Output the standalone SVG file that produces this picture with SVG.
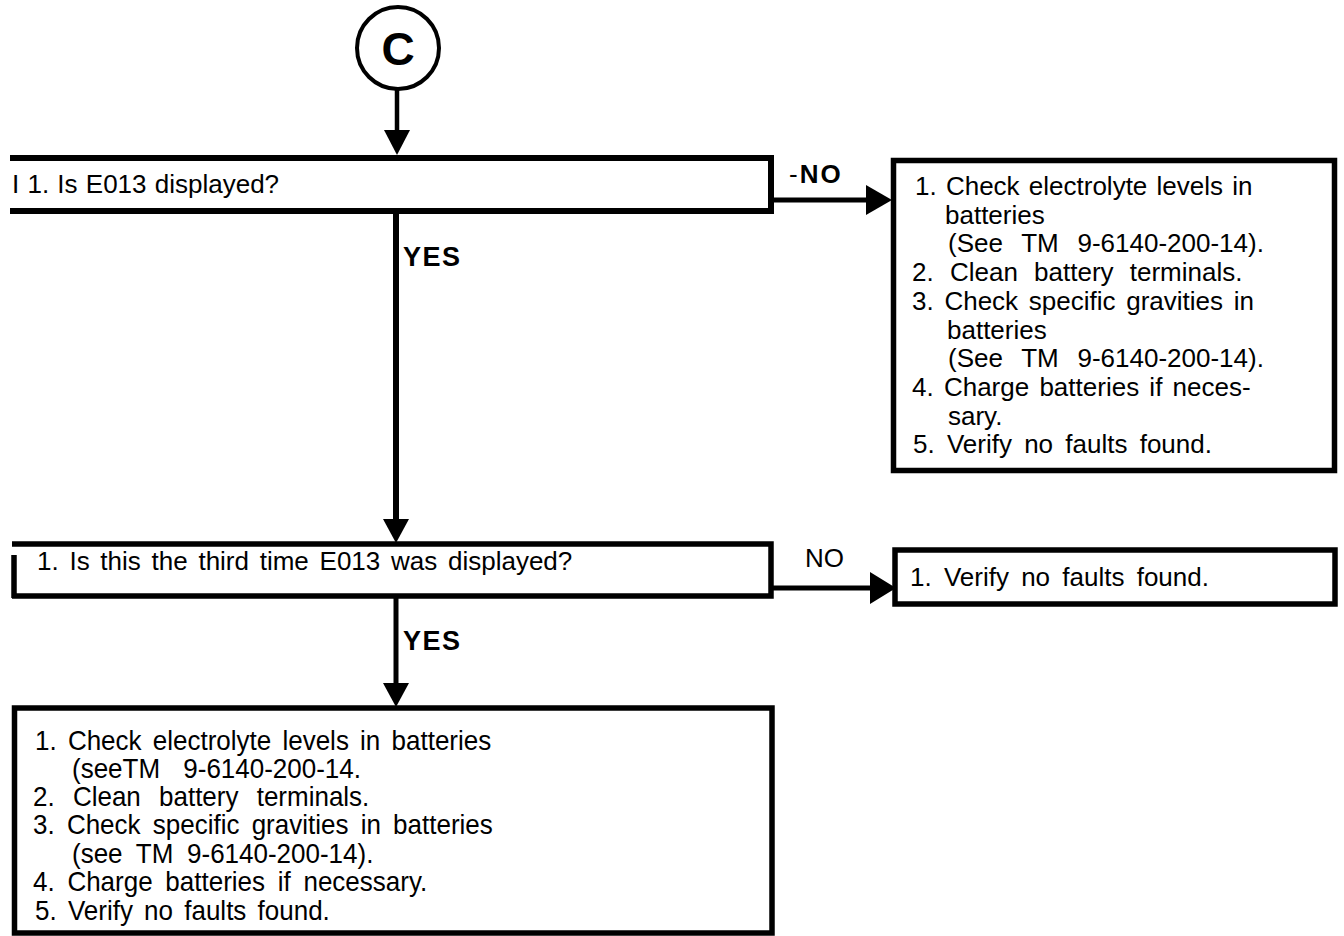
<svg xmlns="http://www.w3.org/2000/svg" width="1344" height="936" viewBox="0 0 1344 936">
<style>
text{font-family:"Liberation Sans",Arial,sans-serif;font-size:26px;fill:#000;word-spacing:4px}
.b{font-weight:bold;word-spacing:0}
.box{fill:none;stroke:#000;stroke-width:5.5}
.ln{fill:none;stroke:#000;stroke-width:5}
.ah{fill:#000}
</style>
<rect width="1344" height="936" fill="#fff"/>
<g id="start">
<circle cx="398" cy="48" r="41" fill="none" stroke="#000" stroke-width="4"/>
<text x="398" y="65" text-anchor="middle" class="b" style="font-size:46px">C</text>
</g>
<g id="q1">
<path class="box" d="M10 158H771V211H10" style="stroke-width:6"/>
<text x="12" y="193" style="word-spacing:1px">I 1. Is E013 displayed?</text>
</g>
<g id="a1">
<rect class="box" x="893.5" y="160.5" width="441" height="310"/>
<text x="915" y="195" style="word-spacing:2px">1. Check electrolyte levels in</text>
<text x="945" y="224">batteries</text>
<text x="948" y="252" style="word-spacing:11.5px">(See TM 9-6140-200-14).</text>
<text x="912" y="281" style="word-spacing:9px">2. Clean battery terminals.</text>
<text x="912" y="310" style="word-spacing:3.5px">3. Check specific gravities in</text>
<text x="947" y="339">batteries</text>
<text x="948" y="367" style="word-spacing:11.5px">(See TM 9-6140-200-14).</text>
<text x="912" y="396" style="word-spacing:3px">4. Charge batteries if neces-</text>
<text x="948" y="425">sary.</text>
<text x="913" y="453" style="word-spacing:5px">5. Verify no faults found.</text>
</g>
<g id="q2">
<path class="box" d="M12 544H771V596H12M14 555V598"/>
<text x="37" y="570" style="word-spacing:3.5px">1. Is this the third time E013 was displayed?</text>
</g>
<g id="a2">
<rect class="box" x="895" y="550" width="440" height="54"/>
<text x="910" y="586" style="word-spacing:5px">1. Verify no faults found.</text>
</g>
<g id="a3">
<rect class="box" x="14.5" y="708" width="757.5" height="225"/>
<g transform="translate(0,750) scale(1,1.08)"><text x="35" y="0" style="word-spacing:4px">1. Check electrolyte levels in batteries</text></g>
<g transform="translate(0,778) scale(1,1.08)"><text x="72" y="0" style="word-spacing:16px">(seeTM 9-6140-200-14.</text></g>
<g transform="translate(0,806) scale(1,1.08)"><text x="33" y="0" style="word-spacing:11px">2. Clean battery terminals.</text></g>
<g transform="translate(0,834) scale(1,1.08)"><text x="33" y="0" style="word-spacing:5px">3. Check specific gravities in batteries</text></g>
<g transform="translate(0,863) scale(1,1.08)"><text x="72" y="0" style="word-spacing:6.5px">(see TM 9-6140-200-14).</text></g>
<g transform="translate(0,891) scale(1,1.08)"><text x="33" y="0" style="word-spacing:5.5px">4. Charge batteries if necessary.</text></g>
<g transform="translate(0,920) scale(1,1.08)"><text x="35" y="0" style="word-spacing:4px">5. Verify no faults found.</text></g>
</g>
<g id="connectors">
<line class="ln" x1="397" y1="89" x2="397" y2="132" style="stroke-width:4.5"/>
<path class="ah" d="M384 130L410 130L397 155Z"/>
<line class="ln" x1="396" y1="213" x2="396" y2="521" style="stroke-width:6"/>
<path class="ah" d="M383 519L409 519L396 543Z"/>
<line class="ln" x1="396" y1="598" x2="396" y2="685"/>
<path class="ah" d="M383 683L409 683L396 707Z"/>
<line class="ln" x1="772" y1="200" x2="868" y2="200"/>
<path class="ah" d="M866 185L866 215L892 200Z"/>
<line class="ln" x1="772" y1="588" x2="872" y2="588"/>
<path class="ah" d="M870 572L870 604L896 588Z"/>
<text x="789" y="183" style="word-spacing:0">-<tspan class="b" dx="2" style="letter-spacing:2px">NO</tspan></text>
<text x="403" y="266" class="b" style="font-size:27px;letter-spacing:1.5px">YES</text>
<text x="805" y="567">NO</text>
<text x="403" y="650" class="b" style="font-size:27px;letter-spacing:1.5px">YES</text>
</g>
</svg>
